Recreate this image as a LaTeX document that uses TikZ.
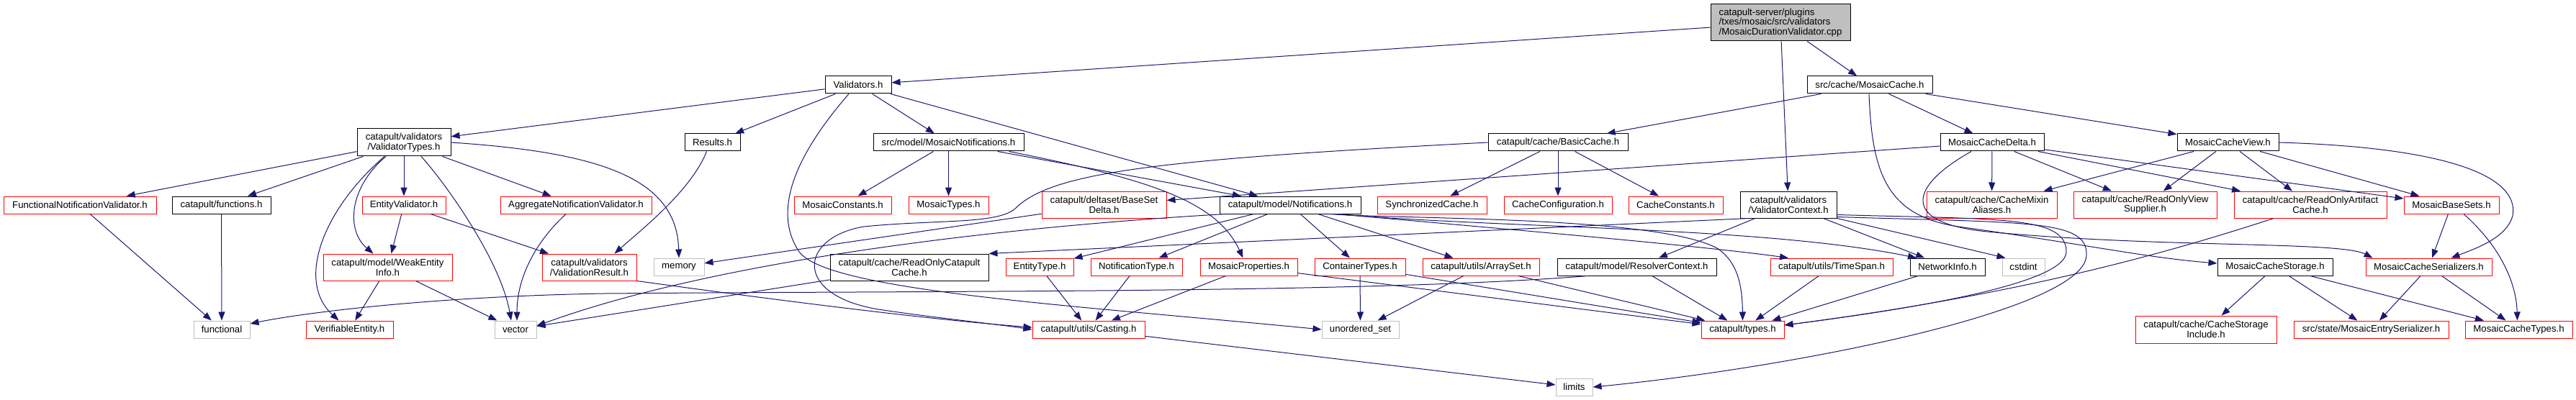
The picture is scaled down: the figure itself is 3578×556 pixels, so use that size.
\documentclass[tikz,border=0pt]{standalone}
\usepackage{fontspec}
\setmainfont{Liberation Sans}
\usetikzlibrary{arrows.meta}
\definecolor{edgeblue}{HTML}{191970}
\definecolor{fillgray}{HTML}{BFBFBF}
\definecolor{sysgray}{HTML}{BFBFBF}
\newcommand\nodefont{\fontsize{13.2}{13.6}\selectfont}
\begin{document}
\begin{tikzpicture}[x=1pt,y=-1pt,
  hbox/.style={draw=black, line width=1pt, inner sep=0pt, minimum height=24pt, font=\nodefont, align=center, text=black},
  redbox/.style={hbox, draw=red},
  sysbox/.style={hbox, draw=sysgray},
  two/.style={minimum height=37pt},
  e/.style={draw=edgeblue, line width=1pt, -{Triangle[length=12pt,width=9pt]}},
]
\useasboundingbox (0,0) rectangle (3578,556);
% row 0
\node[hbox, fill=fillgray, align=left, inner xsep=11pt, minimum height=51pt, minimum width=194pt] (M) at (2473,31.5) {catapult-server/plugins\\/txes/mosaic/src/validators\\/MosaicDurationValidator.cpp};
% row 1
\node[hbox, minimum width=92pt] (V) at (1192,118) {Validators.h};
\node[hbox, minimum width=174pt] (MC) at (2597,118) {src/cache/MosaicCache.h};
% row 2
\node[hbox, minimum height=38pt, minimum width=130pt] (VT) at (561,198) {catapult/validators\\/ValidatorTypes.h};
\node[hbox, minimum width=77pt] (RES) at (989.5,198) {Results.h};
\node[hbox, minimum width=209pt] (MN) at (1317.5,198) {src/model/MosaicNotifications.h};
\node[hbox, minimum width=194pt] (BC) at (2164,198) {catapult/cache/BasicCache.h};
\node[hbox, minimum width=144pt] (MCD) at (2767,198) {MosaicCacheDelta.h};
\node[hbox, minimum width=141pt] (MCV) at (3094.5,198) {MosaicCacheView.h};
% row 3
\node[redbox, minimum width=212pt] (FNV) at (111,285) {FunctionalNotificationValidator.h};
\node[hbox, minimum width=137pt] (FUN) at (307.5,285) {catapult/functions.h};
\node[redbox, minimum width=116pt] (EV) at (561,285) {EntityValidator.h};
\node[redbox, minimum width=210pt] (ANV) at (800,285) {AggregateNotificationValidator.h};
\node[redbox, minimum width=135pt] (MCON) at (1170.5,285) {MosaicConstants.h};
\node[redbox, minimum width=111pt] (MT) at (1317.5,285) {MosaicTypes.h};
\node[redbox, two, minimum width=173pt] (BSD) at (1533.5,284.5) {catapult/deltaset/BaseSet\\Delta.h};
\node[hbox, minimum width=196pt] (N) at (1792,285) {catapult/model/Notifications.h};
\node[redbox, minimum width=152pt] (SC) at (1989,285) {SynchronizedCache.h};
\node[redbox, minimum width=150pt] (CCF) at (2164,285) {CacheConfiguration.h};
\node[redbox, minimum width=131pt] (CCN) at (2327.5,285) {CacheConstants.h};
\node[hbox, two, minimum width=134pt] (VC) at (2484,284.5) {catapult/validators\\/ValidatorContext.h};
\node[redbox, two, minimum width=181pt] (CMA) at (2766.5,284.5) {catapult/cache/CacheMixin\\Aliases.h};
\node[redbox, two, minimum width=199pt] (ROVS) at (2979.5,284.5) {catapult/cache/ReadOnlyView\\Supplier.h};
\node[redbox, two, minimum width=212pt] (ROAC) at (3209,284.5) {catapult/cache/ReadOnlyArtifact\\Cache.h};
\node[redbox, minimum width=132pt] (MBS) at (3405,285) {MosaicBaseSets.h};
% row 4
\node[redbox, two, minimum width=179pt] (WEI) at (538.5,371.5) {catapult/model/WeakEntity\\Info.h};
\node[redbox, two, minimum width=131pt] (VR) at (818.5,371.5) {catapult/validators\\/ValidationResult.h};
\node[sysbox, minimum width=70pt] (MEM) at (943,371) {memory};
\node[hbox, two, minimum width=220pt] (ROCC) at (1263,371.5) {catapult/cache/ReadOnlyCatapult\\Cache.h};
\node[redbox, minimum width=94pt] (ET) at (1444,371) {EntityType.h};
\node[redbox, minimum width=127pt] (NT) at (1578.5,371) {NotificationType.h};
\node[redbox, minimum width=135pt] (MP) at (1734.5,371) {MosaicProperties.h};
\node[redbox, minimum width=126pt] (CT) at (1889,371) {ContainerTypes.h};
\node[redbox, minimum width=162pt] (AS) at (2057,371) {catapult/utils/ArraySet.h};
\node[hbox, minimum width=221pt] (RC) at (2273.5,371) {catapult/model/ResolverContext.h};
\node[redbox, minimum width=170pt] (TS) at (2544,371) {catapult/utils/TimeSpan.h};
\node[hbox, minimum width=104pt] (NI) at (2705,371) {NetworkInfo.h};
\node[sysbox, minimum width=59pt] (CST) at (2810.5,371) {cstdint};
\node[hbox, minimum width=160pt] (MCST) at (3160,371) {MosaicCacheStorage.h};
\node[redbox, minimum width=175pt] (MCS) at (3373.5,371) {MosaicCacheSerializers.h};
% row 5
\node[sysbox, minimum width=78pt] (FUNC) at (308,458) {functional};
\node[redbox, minimum width=121pt] (VE) at (485.5,458) {VerifiableEntity.h};
\node[sysbox, minimum width=58pt] (VEC) at (716,458) {vector};
\node[redbox, minimum width=156pt] (CAST) at (1512,458) {catapult/utils/Casting.h};
\node[sysbox, minimum width=107pt] (US) at (1889.5,458) {unordered\_set};
\node[redbox, minimum width=115pt] (TY) at (2420.5,458) {catapult/types.h};
\node[redbox, minimum height=38pt, minimum width=196pt] (CSI) at (3064,458) {catapult/cache/CacheStorage\\Include.h};
\node[redbox, minimum width=215pt] (MES) at (3293.5,458) {src/state/MosaicEntrySerializer.h};
\node[redbox, minimum width=149pt] (MCT) at (3498.5,458) {MosaicCacheTypes.h};
% row 6
\node[sysbox, minimum width=51pt] (LIM) at (2186.5,538) {limits};

% edges from main
\draw[e] (M) -- (V);
\draw[e] (M) -- (MC);
\draw[e] (M) -- (VC);
% Validators.h
\draw[e] (V) -- (VT);
\draw[e] (V) -- (RES);
\draw[e] (V) -- (MN);
\draw[e] (V) -- (N);
\draw[e] ([xshift=-13pt]V.south) .. controls (1110,210) and (1070,290) .. (1110,350) .. controls (1150,405) and (1500,425) .. (US.west);
% ValidatorTypes.h
\draw[e] (VT) -- (FNV);
\draw[e] (VT) -- (FUN);
\draw[e] (VT) -- (EV);
\draw[e] (VT) -- (ANV);
\draw[e] (VT.east) .. controls (840,212) and (940,250) .. (MEM.north);
\draw[e] ([xshift=24pt]VT.south) .. controls (615,250) and (695,360) .. ([xshift=-6pt]VEC.north);
\draw[e] ([xshift=-27pt]VT.south) .. controls (450,290) and (410,390) .. ([xshift=-15pt]VE.north);
\draw[e] ([xshift=-25pt]VT.south) .. controls (485,260) and (480,320) .. ([xshift=-20pt]WEI.north);
\draw[e] (FNV) -- (FUNC);
\draw[e] (FUN) -- (FUNC);
\draw[e] (EV) -- (WEI);
\draw[e] (EV) -- (VR);
\draw[e] (WEI) -- (VE);
\draw[e] (WEI) -- (VEC);
\draw[e] ([xshift=-14pt]ANV.south) .. controls (740,340) and (718,390) .. ([xshift=2pt]VEC.north);
\draw[e] ([xshift=-8pt]RES.south) .. controls (960,265) and (890,320) .. ([xshift=35pt]VR.north);
\draw[e] (VR.south east) .. controls (1100,420) and (1300,445) .. ([yshift=3pt]CAST.west);
% MosaicNotifications
\draw[e] (MN) -- (MCON);
\draw[e] (MN) -- (MT);
\draw[e] (MN) -- (N);
\draw[e] ([xshift=84pt]MN.south) .. controls (1600,250) and (1690,280) .. ([xshift=-8pt]MP.north);
% Notifications
\draw[e] ([xshift=-90pt]N.south) .. controls (1400,315) and (1000,360) .. ([yshift=5pt]VEC.east);
\draw[e] (N) -- (ET);
\draw[e] (N) -- (NT);
\draw[e] (N) -- (CT);
\draw[e] (N) -- (AS);
\draw[e] ([xshift=55pt]N.south) .. controls (1950,305) and (2300,300) .. (2385,345) .. controls (2415,365) and (2420,400) .. (TY.north);
\draw[e] ([xshift=62pt]N.south) .. controls (2100,318) and (2450,315) .. ([xshift=-43pt]NI.north);
\draw[e] ([xshift=66pt]N.south) .. controls (2050,315) and (2350,340) .. ([xshift=-60pt]TS.north);
\draw[e] (BSD) -- (MEM);
\draw[e] (ROCC) -- (VEC);
\draw[e] (ET) -- (CAST);
\draw[e] (NT) -- (CAST);
\draw[e] (MP) -- (CAST);
\draw[e] (MP) -- (TY);
\draw[e] (CT) -- (US);
\draw[e] (CT) -- (TY);
\draw[e] (AS) -- (US);
\draw[e] (AS) -- (TY);
\draw[e] (RC) -- (TY);
\draw[e] ([xshift=-68pt]RC.south) .. controls (1900,408) and (1300,404) .. (840,408) .. controls (600,412) and (420,435) .. ([yshift=8pt]FUNC.east);
\draw[e] (TS) -- (TY);
\draw[e] (NI) -- (TY);
\draw[e] (CAST) -- (LIM);
% MosaicCache
\draw[e] (MC) -- (BC);
\draw[e] (MC) -- (MCD);
\draw[e] (MC) -- (MCV);
\draw[e] ([xshift=-1pt]MC.south) .. controls (2600,240) and (2620,300) .. (2720,315) .. controls (2900,340) and (2980,358) .. ([yshift=5pt]MCST.west);
\draw[e] (BC) -- (SC);
\draw[e] (BC) -- (CCF);
\draw[e] (BC) -- (CCN);
\draw[e] (BC.west) .. controls (1600,222) and (1460,240) .. (1410,290) .. controls (1385,312) and (1300,305) .. (1200,315) .. controls (1110,330) and (1100,410) .. (1220,430) .. controls (1300,442) and (1380,450) .. (CAST.west);
\draw[e] (MCD) -- (BSD);
\draw[e] (MCD) -- (CMA);
\draw[e] (MCD) -- (ROVS);
\draw[e] (MCD) -- (ROAC);
\draw[e] (MCD) -- (MBS);
\draw[e] ([xshift=-29pt]MCD.south) .. controls (2650,260) and (2640,310) .. (2760,322) .. controls (3000,345) and (3250,335) .. ([xshift=-78pt]MCS.north);
\draw[e] (MCV) -- (CMA);
\draw[e] (MCV) -- (ROVS);
\draw[e] (MCV) -- (ROAC);
\draw[e] (MCV) -- (MBS);
\draw[e] (MCV.east) .. controls (3400,205) and (3500,245) .. (3490,300) .. controls (3482,330) and (3440,345) .. ([xshift=31pt]MCS.north);
\draw[e] ([xshift=-51pt]ROAC.south) .. controls (3000,355) and (2800,410) .. ([yshift=6pt]TY.east);
\draw[e] (MBS) -- (MCS);
\draw[e] ([xshift=17pt]MBS.south) .. controls (3470,340) and (3495,390) .. ([xshift=-2pt]MCT.north);
\draw[e] (MCS) -- (MES);
\draw[e] (MCS) -- (MCT);
\draw[e] (MCST) -- (CSI);
\draw[e] (MCST) -- (MES);
\draw[e] (MCST) -- (MCT);
% ValidatorContext
\draw[e] ([xshift=-55pt]VC.south) -- (ROCC.north east);
\draw[e] (VC) -- (RC);
\draw[e] (VC) -- (NI);
\draw[e] (VC.south east) -- ([xshift=-25pt]CST.north);
\draw[e] ([yshift=-14pt]VC.east) .. controls (2780,305) and (2870,300) .. (2870,350) .. controls (2870,395) and (2650,430) .. ([yshift=6pt]TY.east);
\draw[e] ([yshift=-17pt]VC.east) .. controls (2820,310) and (2900,305) .. (2898,355) .. controls (2895,430) and (2500,510) .. (LIM.east);
\end{tikzpicture}
\end{document}
